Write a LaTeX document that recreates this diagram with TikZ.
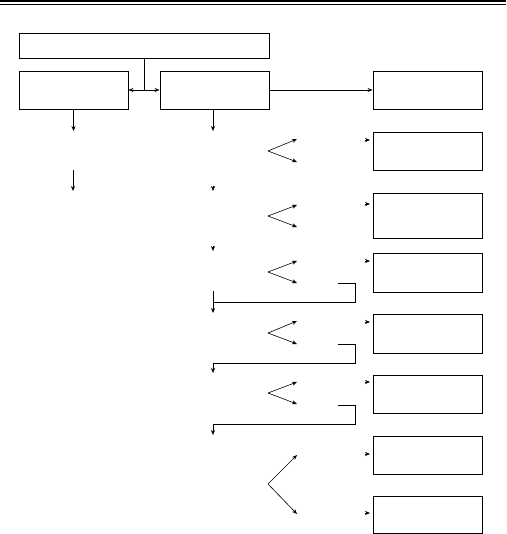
\documentclass[tikz,border=0pt]{standalone}
\usepackage{tikz}
\usetikzlibrary{arrows.meta}
\tikzstyle{box} = [rectangle, minimum width=109pt, minimum height=38pt, inner sep=0pt, draw=black, line width=0.9pt, fill=white]
\tikzstyle{arrow} = [line width=0.6pt,->,>={Stealth[length=5pt,width=4pt]}]
\tikzstyle{link} = [line width=0.6pt]
\begin{document}
\begin{tikzpicture}[x=1pt, y=-1pt]
    \useasboundingbox (0,0) rectangle (506,534);
    \draw [line width=1.8pt] (0,1) -- (506,1);
    \draw [line width=0.8pt] (0,4) -- (506,4);
    \node (head) [box, minimum width=250pt, minimum height=25pt] at (144,45.5) {};
    \node (src) [box] at (73.5,90) {};
    \node (mid) [box] at (214.5,90) {};
    \node (out) [box] at (427.5,90) {};
    \node (res2) [box] at (427.5,151) {};
    \node (res3) [box, minimum height=45pt] at (427.5,215.5) {};
    \node (res4) [box, minimum height=39pt] at (427.5,272.5) {};
    \node (res5) [box, minimum height=39pt] at (427.5,333.5) {};
    \node (res6) [box] at (427.5,394) {};
    \node (res7) [box] at (427.5,455) {};
    \node (res8) [box, minimum height=37pt] at (427.5,514.5) {};
    % split under the header
    \coordinate (split) at (144,90);
    \draw [link] (head.south) -- (split);
    \draw [arrow] (split) -- (src.east);
    \draw [arrow] (split) -- (mid.west);
    \draw [arrow] (mid.east) -- (out.west);
    % left column
    \coordinate (lt1) at (73.5,131);
    \coordinate (ls2) at (73,170);
    \coordinate (lt2) at (73,191);
    \draw [arrow] (src.south) -- (lt1);
    \draw [arrow] (ls2) -- (lt2);
    % middle column
    \coordinate (mt1) at (213,131);
    \coordinate (mt2) at (213,191);
    \coordinate (mt3) at (213,251);
    \draw [arrow] (mid.south -| mt1) -- (mt1);
    \draw [arrow] ([yshift=5pt]mt2) -- (mt2);
    \draw [arrow] ([yshift=5pt]mt3) -- (mt3);
    % forks
    \coordinate (fk1) at (268,151);
    \coordinate (fk1a) at (297,139);
    \coordinate (fk1b) at (297,162);
    \draw [arrow] (fk1) -- (fk1a);
    \draw [arrow] (fk1) -- (fk1b);
    \coordinate (fk2) at (268,216);
    \coordinate (fk2a) at (297,205);
    \coordinate (fk2b) at (297,227);
    \draw [arrow] (fk2) -- (fk2a);
    \draw [arrow] (fk2) -- (fk2b);
    \coordinate (fk3) at (268,272);
    \coordinate (fk3a) at (297,261);
    \coordinate (fk3b) at (297,283);
    \draw [arrow] (fk3) -- (fk3a);
    \draw [arrow] (fk3) -- (fk3b);
    \coordinate (fk4) at (268,333);
    \coordinate (fk4a) at (297,321);
    \coordinate (fk4b) at (297,344);
    \draw [arrow] (fk4) -- (fk4a);
    \draw [arrow] (fk4) -- (fk4b);
    \coordinate (fk5) at (268,393);
    \coordinate (fk5a) at (297,382);
    \coordinate (fk5b) at (297,404);
    \draw [arrow] (fk5) -- (fk5a);
    \draw [arrow] (fk5) -- (fk5b);
    \coordinate (fk6) at (268,484);
    \coordinate (fk6a) at (297,455);
    \coordinate (fk6b) at (297,514);
    \draw [arrow] (fk6) -- (fk6a);
    \draw [arrow] (fk6) -- (fk6b);
    % loops back to the middle column
    \coordinate (bk3) at (338,283);
    \coordinate (cr3) at (355,302);
    \coordinate (st3) at (213,291);
    \coordinate (en3) at (213,313);
    \draw [arrow] (bk3) -| (cr3) -| (en3);
    \draw [link] (st3) -- (st3 |- cr3);
    \coordinate (bk4) at (338,344);
    \coordinate (cr4) at (355,363);
    \coordinate (en4) at (213,373);
    \draw [arrow] (bk4) -| (cr4) -| (en4);
    \coordinate (bk5) at (338,405);
    \coordinate (cr5) at (355,424);
    \coordinate (en5) at (213,435);
    \draw [arrow] (bk5) -| (cr5) -| (en5);
    % tips into the right column
    \coordinate (tp2) at (370,140);
    \coordinate (tp3) at (370,204);
    \coordinate (tp4) at (370,261);
    \coordinate (tp5) at (370,322);
    \coordinate (tp6) at (370,382);
    \coordinate (tp7) at (370,454);
    \coordinate (tp8) at (370,513);
    \draw [arrow] ([xshift=-5pt]tp2) -- (tp2);
    \draw [arrow] ([xshift=-5pt]tp3) -- (tp3);
    \draw [arrow] ([xshift=-5pt]tp4) -- (tp4);
    \draw [arrow] ([xshift=-5pt]tp5) -- (tp5);
    \draw [arrow] ([xshift=-5pt]tp6) -- (tp6);
    \draw [arrow] ([xshift=-5pt]tp7) -- (tp7);
    \draw [arrow] ([xshift=-5pt]tp8) -- (tp8);
\end{tikzpicture}
\end{document}
